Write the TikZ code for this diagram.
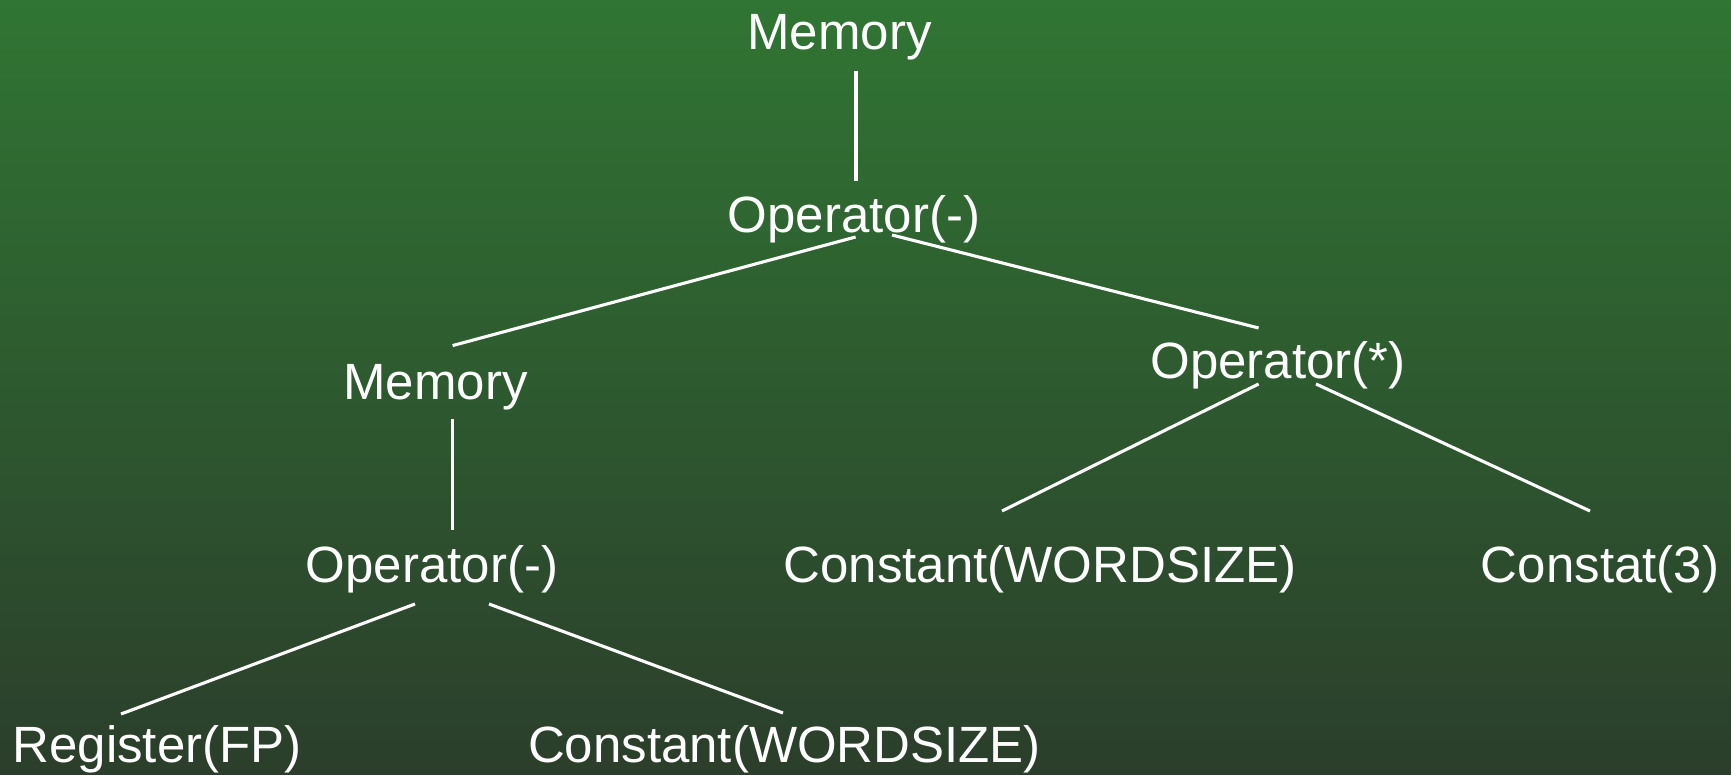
\documentclass[tikz,border=0pt]{standalone}
\usepackage{fontspec}
\setmainfont{Liberation Sans}
\usetikzlibrary{calc}
\definecolor{bgtop}{RGB}{48,117,51}
\definecolor{bgbot}{RGB}{43,62,43}
\tikzset{
  lbl/.style={anchor=base, text=white, inner sep=0pt, font=\fontsize{51}{60}\selectfont},
  edge/.style={draw=white, line width=3.1pt}
}
\begin{document}
\begin{tikzpicture}[x=1pt,y=1pt]
\shade[top color=bgtop, bottom color=bgbot] (0,0) rectangle (1731,775);
\useasboundingbox (0,0) rectangle (1731,775);
\node[lbl] (m1) at (839.5,725) {Memory};
\node[lbl] (o1) at (854,542) {Operator(-)};
\node[lbl] (m2) at (435.6,375) {Memory};
\node[lbl] (o2) at (1278,396) {Operator(*)};
\node[lbl] (o3) at (432,192) {Operator(-)};
\node[lbl] (c1) at (1040,192) {Constant(WORDSIZE)};
\node[lbl] (c3) at (1600,192) {Constat(3)};
\node[lbl] (r) at (157,12) {Register(FP)};
\node[lbl] (c2) at (784.5,12) {Constant(WORDSIZE)};
\draw[edge] ($(m1.base)+(16.5,-21)$) -- ($(o1.base)+(2,52)$);
\draw[edge] ($(o1.base)+(1.6,-4)$) -- ($(m2.base)+(17,54.4)$);
\draw[edge] ($(o1.base)+(38,-2)$) -- ($(o2.base)+(-19.4,51)$);
\draw[edge] ($(m2.base)+(17,-19.5)$) -- ($(o3.base)+(20.6,53)$);
\draw[edge] ($(o2.base)+(-19.4,-5)$) -- ($(c1.base)+(-38,72)$);
\draw[edge] ($(o2.base)+(38,-5)$) -- ($(c3.base)+(-10,72)$);
\draw[edge] ($(o3.base)+(-17,-21)$) -- ($(r.base)+(-36,49)$);
\draw[edge] ($(o3.base)+(57,-21)$) -- ($(c2.base)+(-1.5,50)$);
\end{tikzpicture}
\end{document}
